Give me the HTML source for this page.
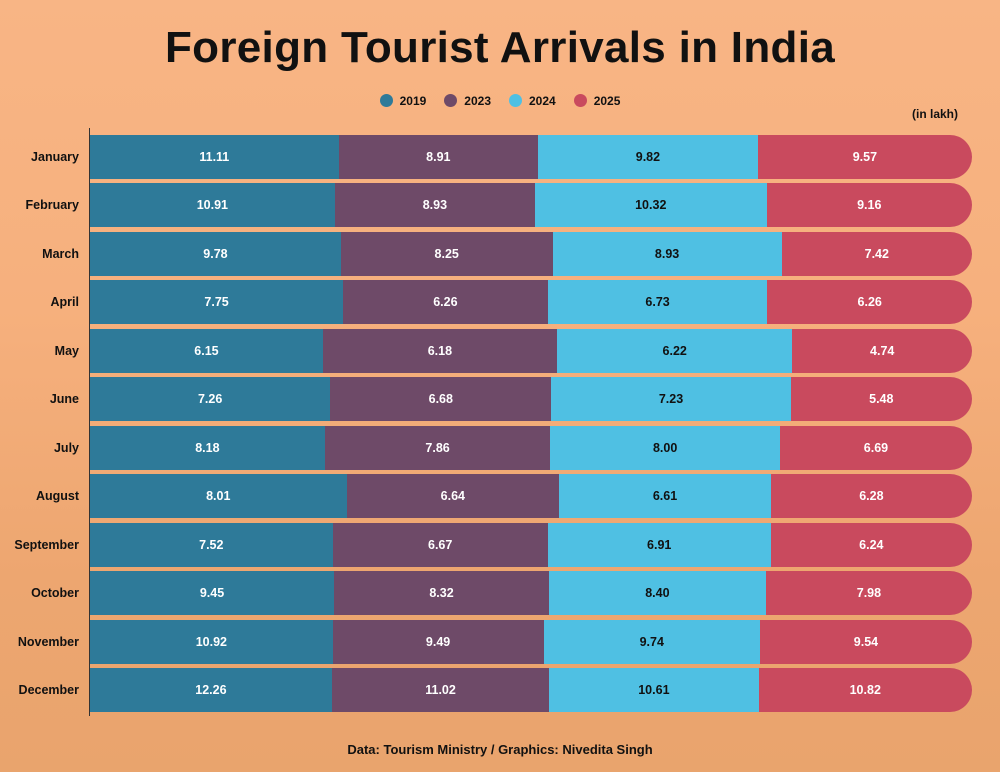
<!DOCTYPE html>
<html><head><meta charset="utf-8"><style>
html,body{margin:0;padding:0}
body{width:1000px;height:772px;overflow:hidden;position:relative;font-family:"Liberation Sans",sans-serif;
background:linear-gradient(180deg,#f8b585 0%,#f6b07d 40%,#eda670 75%,#e9a46d 100%);}
.title{position:absolute;top:23px;left:0;width:1000px;text-align:center;font-size:44px;font-weight:bold;color:#111;letter-spacing:0.3px}
.legend{position:absolute;top:94px;left:0;width:1000px;text-align:center;font-size:12px;font-weight:bold;color:#111}
.legend span{display:inline-block;margin:0 9px}
.legend i{display:inline-block;width:13px;height:13px;border-radius:50%;vertical-align:-2px;margin-right:7px}
.unit{position:absolute;top:107px;left:912px;font-size:12px;font-weight:bold;color:#111}
.axis{position:absolute;left:89px;top:128px;width:1px;height:588px;background:#333}
.row{position:absolute;left:90px;width:882px;height:44px;display:flex;border-radius:0 22px 22px 0;overflow:hidden}
.seg{height:44px;line-height:44px;text-align:center;color:#fff;font-size:12.5px;font-weight:bold}
.lab{position:absolute;width:79px;text-align:right;left:0;font-size:12.5px;font-weight:bold;color:#111;line-height:44px;height:44px}
.foot{position:absolute;top:742px;left:0;width:1000px;text-align:center;font-size:13px;font-weight:bold;color:#111}
</style></head><body>
<div class="title">Foreign Tourist Arrivals in India</div>
<div class="legend"><span><i style="background:#2e7a99"></i>2019</span><span><i style="background:#6e4a68"></i>2023</span><span><i style="background:#4fc0e3"></i>2024</span><span><i style="background:#c94a5e"></i>2025</span></div>
<div class="unit">(in lakh)</div>
<div class="axis"></div>
<div id="c"></div>
<div class="foot">Data: Tourism Ministry / Graphics: Nivedita Singh</div>
<script>
var d=[["January",11.11,8.91,9.82,9.57],["February",10.91,8.93,10.32,9.16],["March",9.78,8.25,8.93,7.42],["April",7.75,6.26,6.73,6.26],["May",6.15,6.18,6.22,4.74],["June",7.26,6.68,7.23,5.48],["July",8.18,7.86,8.00,6.69],["August",8.01,6.64,6.61,6.28],["September",7.52,6.67,6.91,6.24],["October",9.45,8.32,8.40,7.98],["November",10.92,9.49,9.74,9.54],["December",12.26,11.02,10.61,10.82]];
var col=["#2e7a99","#6e4a68","#4fc0e3","#c94a5e"],h="";
d.forEach(function(r,i){var y=135+i*48.45,t=r[1]+r[2]+r[3]+r[4];
h+='<div class="lab" style="top:'+y+'px">'+r[0]+'</div><div class="row" style="top:'+y+'px">';
for(var k=0;k<4;k++){h+='<div class="seg" style="width:'+(r[k+1]/t*882)+'px;background:'+col[k]+';color:'+(k==2?'#111':'#fff')+'">'+r[k+1].toFixed(2)+'</div>';}
h+='</div>';});
document.getElementById("c").innerHTML=h;
</script>
</body></html>
